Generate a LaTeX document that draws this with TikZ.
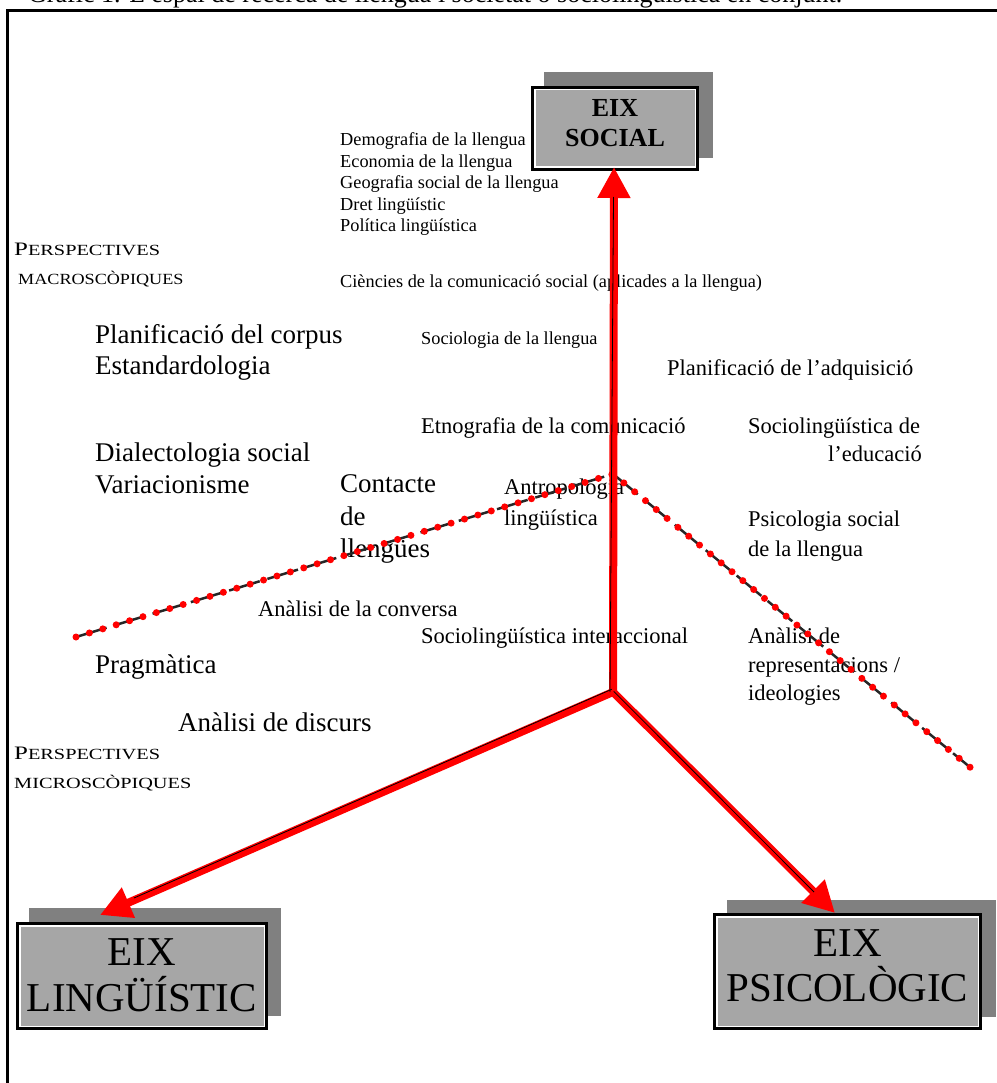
\documentclass[tikz,border=0pt]{standalone}
\usepackage{fontspec}
\usepackage{graphicx}
\setmainfont{Liberation Serif}
\usetikzlibrary{arrows.meta,calc}
\definecolor{boxgray}{HTML}{A6A6A6}
\definecolor{shadowgray}{HTML}{808080}
\definecolor{axisred}{HTML}{FF0000}
\tikzset{
  sm/.style={anchor=base west, inner sep=0pt, font=\fontsize{18.3}{22}\selectfont},
  md/.style={anchor=base west, inner sep=0pt, font=\fontsize{22.5}{27}\selectfont},
  lg/.style={anchor=base west, inner sep=0pt, font=\fontsize{27}{31}\selectfont},
  persp/.style={anchor=base west, inner sep=0pt},
  shadowbox/.style={fill=shadowgray, draw=none, inner sep=0pt, outer sep=0pt},
  mainbox/.style={draw=black, line width=3pt, fill=boxgray, inner sep=0pt, outer sep=0pt,
    path picture={\draw[white, line width=1.5pt]
      ([xshift=2.25pt,yshift=-2.25pt]path picture bounding box.north west) rectangle
      ([xshift=-2.25pt,yshift=2.25pt]path picture bounding box.south east);}},
  boxtext/.style={align=center, inner sep=0pt},
  axis/.style={draw=axisred, line width=8pt, -{Triangle[length=31pt,width=31pt]}},
  axisedge/.style={draw=black, line width=0.8pt},
  dashline/.style={draw=black!85, line width=2.5pt, dash pattern=on 32pt off 8pt},
  dotline/.style={draw=axisred, line width=7pt, line cap=round, dash pattern=on 0pt off 14pt},
}
\newcommand{\bigsc}[3]{\scalebox{#3}[1]{{\fontsize{19}{22}\selectfont #1}{\fontsize{15.5}{22}\selectfont #2}}}
\newcommand{\allsc}[2]{\scalebox{#2}[1]{\fontsize{15.5}{22}\selectfont #1}}
\begin{document}
\begin{tikzpicture}[x=1pt,y=-1pt]
\useasboundingbox (0,0) rectangle (996,1083);
% caption (partly cut off at the top edge, as in the reference)
\node[anchor=base west, inner sep=0pt, font=\fontsize{26}{30}\selectfont] (caption) at (28,3)
  {Gràfic 1. L’espai de recerca de llengua i societat o sociolingüística en conjunt.};
% frame
\draw[line width=3pt] (7,1095) -- (7,10.5) -- (1005,10.5);

% boxes
\node[shadowbox, minimum width=169pt, minimum height=86pt] (socsh) at (628.5,115) {};
\node[mainbox, minimum width=165pt, minimum height=82pt] (soc) at (615,128.5) {};
\node[boxtext, font=\bfseries\fontsize{26}{30}\selectfont] (soct) at (615,123) {EIX\\SOCIAL};

\node[shadowbox, minimum width=252pt, minimum height=108pt] (lingsh) at (155,962) {};
\node[mainbox, minimum width=249pt, minimum height=105pt] (ling) at (142,976) {};
\node[boxtext, font=\fontsize{41}{46}\selectfont] (lingt) at (142,975) {EIX\\LINGÜÍSTIC};

\node[shadowbox, minimum width=269pt, minimum height=117pt] (psish) at (861.5,958.5) {};
\node[mainbox, minimum width=266pt, minimum height=114pt] (psi) at (847.5,971.5) {};
\node[boxtext, font=\fontsize{41}{45}\selectfont] (psit) at (847.5,965.5) {EIX\\PSICOLÒGIC};

% small texts
\node[sm] (t1) at (340,146) {Demografia de la llengua};
\node[sm] (t2) at (340,167.5) {Economia de la llengua};
\node[sm] (t3) at (340,189) {Geografia social de la llengua};
\node[sm] (t4) at (340,210.5) {Dret lingüístic};
\node[sm] (t5) at (340,232) {Política lingüística};
\node[sm] (t6) at (340,287) {Ciències de la comunicació social (aplicades a la llengua)};
\node[sm] (t7) at (421,344) {Sociologia de la llengua};

\node[persp] (pm1) at (14,255) {\bigsc{P}{ERSPECTIVES}{1.31}};
\node[persp] (pm2) at (18,284) {\allsc{MACROSCÒPIQUES}{1.17}};
\node[persp] (pn1) at (14,759) {\bigsc{P}{ERSPECTIVES}{1.31}};
\node[persp] (pn2) at (14,788) {\allsc{MICROSCÒPIQUES}{1.31}};

% large texts
\node[lg] (l1) at (95,343) {Planificació del corpus};
\node[lg] (l2) at (95,374) {Estandardologia};
\node[lg] (l3) at (95,461) {Dialectologia social};
\node[lg] (l4) at (95,493) {Variacionisme};
\node[lg] (l5) at (340,492) {Contacte};
\node[lg] (l6) at (340,525) {de};
\node[lg] (l7) at (340,557) {llengües};
\node[lg] (l8) at (95,673) {Pragmàtica};
\node[lg] (l9) at (178,731) {Anàlisi de discurs};

% medium texts
\node[md] (m1) at (667,375) {Planificació de l’adquisició};
\node[md] (m2) at (421,433) {Etnografia de la comunicació};
\node[md] (m3) at (748,433) {Sociolingüística de};
\node[anchor=base east, inner sep=0pt, font=\fontsize{22.5}{27}\selectfont] (m4) at (922,461) {l’educació};
\node[md] (m5) at (504,494) {Antropologia};
\node[md] (m6) at (504,525) {lingüística};
\node[md] (m7) at (748,526) {Psicologia social};
\node[md] (m8) at (748,556) {de la llengua};
\node[md] (m9) at (258,616) {Anàlisi de la conversa};
\node[md] (m10) at (421,643) {Sociolingüística interaccional};
\node[md] (m11) at (748,643) {Anàlisi de};
\node[md] (m12) at (748,672) {representacions /};
\node[md] (m13) at (748,700) {ideologies};

% dotted boundary lines
\coordinate (dl) at (76,637);
\coordinate (apex) at (613,474);
\coordinate (dr) at (971,768);
\draw[dashline] (dl) -- (apex);
\draw[dotline] (dl) -- (apex);
\draw[dashline] (apex) -- (dr);
\draw[dotline] (apex) -- (dr);

% axes
\coordinate (J) at (613,692);
\coordinate (tipS) at (614,167);
\coordinate (tipL) at (100,915);
\coordinate (tipP) at (835,913);
\draw[axis] (J) -- (tipS);
\draw[axis] (J) -- (tipL);
\draw[axis] (J) -- (tipP);
\fill[axisred] (J) circle (4pt);
\draw[axisedge] ($(J)+(-3,0)$) -- ($(tipS)+(-0.5,30)$);
\draw[axisedge] ($(J)+(-1.2,-2.75)$) -- ($(tipL)+(34,-17)$);
\draw[axisedge] ($(J)+(0.7,-0.7)$) -- ($(tipP)+(-21,-21)$);
\end{tikzpicture}
\end{document}
